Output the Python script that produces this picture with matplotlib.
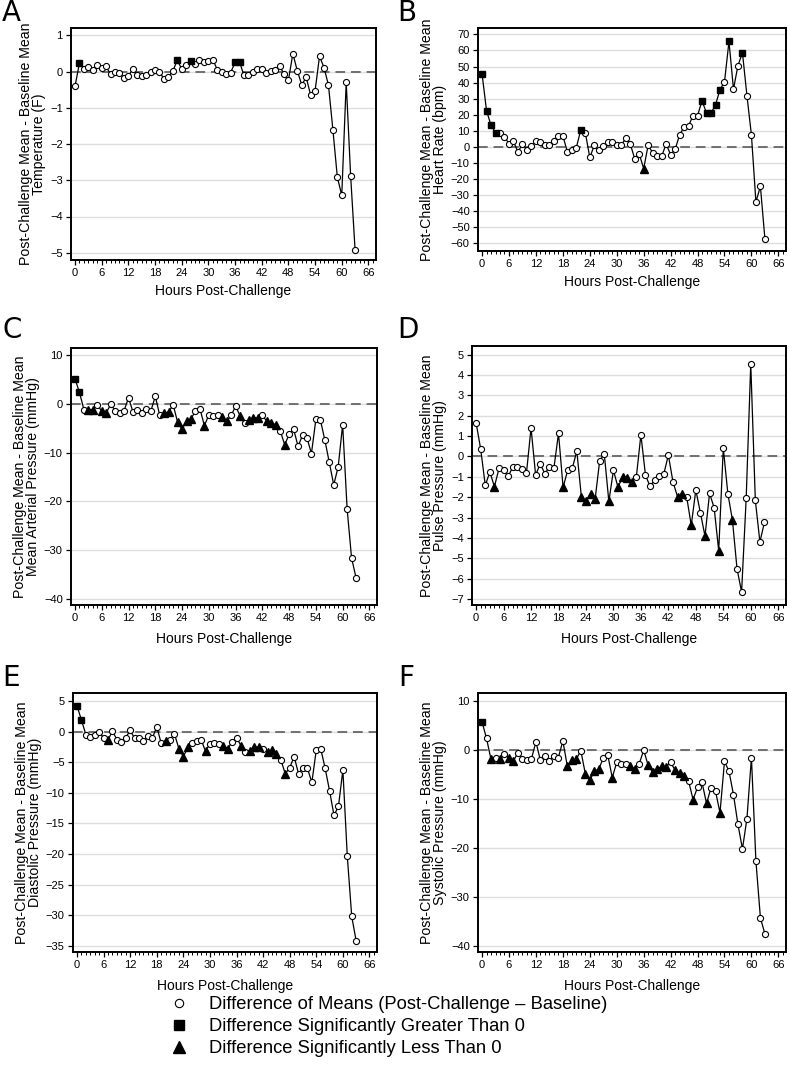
import numpy as np
import matplotlib
matplotlib.use("Agg")
from matplotlib import pyplot as plt
from matplotlib.lines import Line2D
from matplotlib.ticker import MultipleLocator

plt.rcParams['font.family'] = ['Liberation Sans', 'DejaVu Sans']

hours = np.arange(64)

# panel A - temperature (F)
temp = [-0.41, 0.23, 0.08, 0.13, 0.05, 0.18, 0.11, 0.14, -0.08, 0.0,
        -0.04, -0.18, -0.12, 0.06, -0.09, -0.12, -0.11, 0.0, 0.04, 0.0,
        -0.21, -0.15, 0.01, 0.31, 0.07, 0.18, 0.28, 0.22, 0.33, 0.26,
        0.29, 0.33, 0.05, -0.01, -0.07, -0.03, 0.25, 0.27, -0.11, -0.11,
        -0.02, 0.07, 0.06, -0.05, 0.02, 0.05, 0.15, -0.06, -0.24, 0.49,
        0.02, -0.37, -0.16, -0.65, -0.53, 0.42, 0.11, -0.37, -1.6, -2.91,
        -3.42, -0.3, -2.89, -4.93]
temp_hi = [1, 23, 26, 36, 37]
temp_lo = []

# panel B - heart rate (bpm)
hr = [45.5, 22.5, 13.3, 8.8, 8.8, 6.3, 1.8, 3.3, -3.3, 1.6,
      -1.9, 0.2, 3.3, 2.9, 1.0, 1.0, 3.5, 6.4, 6.8, -3.1,
      -2.3, -0.6, 10.6, 8.8, -6.7, 0.8, -2.1, 0.4, 3.0, 3.0,
      0.9, 0.9, 5.2, 1.9, -7.5, -4.4, -13.6, 0.9, -3.7, -5.8,
      -6.0, 1.7, -4.9, -1.6, 7.3, 12.3, 13.1, 19.4, 19.4, 28.6,
      21.0, 21.0, 26.1, 35.6, 40.4, 65.6, 35.9, 50.6, 58.6, 31.8,
      7.3, -34.4, -24.7, -57.4]
hr_hi = [0, 1, 2, 3, 22, 49, 50, 51, 52, 53, 55, 58]
hr_lo = [36]

# panel C - mean arterial pressure (mmHg)
map_ = [5.1, 2.3, -1.2, -1.2, -1.2, -0.3, -1.5, -1.9, -0.1, -1.4,
        -1.9, -1.4, 1.2, -1.7, -1.2, -1.9, -1.0, -1.5, 1.5, -2.4,
        -1.9, -1.7, -0.2, -3.8, -5.2, -3.6, -3.1, -1.5, -1.0, -4.5,
        -2.3, -2.5, -2.4, -2.8, -3.6, -2.4, -0.5, -2.5, -4.0, -3.4,
        -2.9, -2.9, -2.4, -3.6, -3.9, -4.3, -5.5, -8.4, -6.3, -5.2,
        -8.7, -6.5, -7.0, -10.2, -3.2, -3.3, -7.4, -12.0, -16.6, -12.9,
        -4.3, -21.5, -31.6, -35.6]
map_hi = [0, 1]
map_lo = [3, 4, 6, 7, 20, 21, 23, 24, 25, 26, 29, 33, 34, 37, 39, 40, 41,
          43, 44, 45, 47]

# panel D - pulse pressure (mmHg)
pp = [1.65, 0.36, -1.42, -0.76, -1.48, -0.59, -0.66, -0.97, -0.53, -0.54,
      -0.64, -0.81, 1.40, -0.92, -0.35, -0.84, -0.53, -0.56, 1.14, -1.52,
      -0.68, -0.58, 0.26, -1.99, -2.19, -1.85, -2.09, -0.2, 0.12, -2.21,
      -0.68, -1.52, -1.0, -1.04, -1.24, -1.02, 1.07, -0.92, -1.47, -1.15,
      -0.97, -0.86, 0.07, -1.24, -1.98, -1.83, -1.99, -3.38, -1.65, -2.77,
      -3.91, -1.81, -2.52, -4.63, 0.41, -1.83, -3.13, -5.52, -6.66, -2.06,
      4.55, -2.16, -4.2, -3.23]
pp_hi = []
pp_lo = [4, 19, 23, 24, 25, 26, 29, 31, 32, 33, 34, 44, 45, 47, 50, 53, 56]

# panel E - diastolic pressure (mmHg)
dia = [4.2, 1.9, -0.5, -0.9, -0.5, -0.1, -1.0, -1.4, 0.1, -1.3,
       -1.7, -1.0, 0.2, -1.1, -1.0, -1.5, -0.7, -1.1, 0.8, -1.9,
       -1.5, -1.3, -0.4, -2.8, -4.1, -2.6, -1.9, -1.5, -1.3, -3.2,
       -2.0, -1.9, -2.1, -2.3, -2.8, -1.7, -1.0, -2.3, -3.4, -3.1,
       -2.5, -2.6, -2.8, -3.4, -3.0, -3.6, -4.6, -6.9, -5.9, -4.1,
       -6.9, -5.9, -6.0, -8.3, -3.0, -2.8, -6.0, -9.7, -13.7, -12.2,
       -6.3, -20.4, -30.2, -34.2]
dia_hi = [0, 1]
dia_lo = [7, 20, 23, 24, 25, 29, 33, 34, 37, 39, 40, 41, 43, 44, 45, 47]

# panel F - systolic pressure (mmHg)
sys_ = [5.8, 2.4, -1.9, -1.6, -1.9, -0.7, -1.7, -2.2, -0.5, -1.8,
        -2.0, -1.8, 1.7, -2.1, -1.1, -2.2, -1.1, -1.5, 1.9, -3.3,
        -2.1, -1.8, -0.1, -4.8, -6.2, -4.3, -3.9, -1.6, -1.0, -5.6,
        -2.5, -2.9, -2.8, -3.2, -3.9, -2.8, 0.0, -3.1, -4.5, -3.9,
        -3.3, -3.4, -2.5, -4.1, -4.7, -5.2, -6.3, -10.1, -7.6, -6.6,
        -10.9, -7.7, -8.4, -12.8, -2.3, -4.3, -9.1, -15.2, -20.2, -14.0,
        -1.5, -22.7, -34.3, -37.6]
sys_hi = [0]
sys_lo = [2, 4, 6, 7, 19, 20, 21, 23, 24, 25, 26, 29, 33, 34, 37, 38, 39,
          40, 41, 43, 44, 45, 47, 50, 53]

W, H = 790, 1069
fig = plt.figure(figsize=(W / 100, H / 100), dpi=100)

# (letter, values, hi, lo, ylabel 2nd line, yticks, ylim, box px: l, r, top, bottom, letter px: x, y)
panels = [
    ("A", temp, temp_hi, temp_lo, "Temperature (F)", np.arange(-5, 2, 1), (-5.2, 1.2), (71, 376, 28, 260), (2, -1)),
    ("B", hr, hr_hi, hr_lo, "Heart Rate (bpm)", np.arange(-60, 80, 10), (-65, 74), (478, 786, 28, 251), (397, -1)),
    ("C", map_, map_hi, map_lo, "Mean Arterial Pressure (mmHg)", np.arange(-40, 20, 10), (-41.2, 11.4), (71, 377, 348, 605), (2, 316)),
    ("D", pp, pp_hi, pp_lo, "Pulse Pressure (mmHg)", np.arange(-7, 6, 1), (-7.3, 5.43), (472, 786, 346, 605), (397, 316)),
    ("E", dia, dia_hi, dia_lo, "Diastolic Pressure (mmHg)", np.arange(-35, 10, 5), (-36, 6.3), (73, 377, 693, 952), (2, 664)),
    ("F", sys_, sys_hi, sys_lo, "Systolic Pressure (mmHg)", np.arange(-40, 20, 10), (-41.3, 11.7), (478, 786, 693, 952), (398, 664)),
]

for letter, vals, hi, lo, lab, yt, yl, (l, r, t, b), (lx, ly) in panels:
    ax = fig.add_axes([l / W, 1 - b / H, (r - l) / W, (b - t) / H])
    vals = np.array(vals)
    assert len(vals) == len(hours)
    kind = np.zeros(len(hours), dtype=int)
    kind[hi] = 1
    kind[lo] = 2
    for y in yt:
        ax.axhline(y, color='#dedede', lw=1.0, zorder=0)
    ax.axhline(0, color='#707070', lw=1.4, ls=(0, (5, 3)), zorder=1)
    ax.plot(hours, vals, color='black', lw=0.9, zorder=2)
    m = kind == 0
    ax.plot(hours[m], vals[m], 'o', ls='none', ms=4.4, mfc='white', mec='black', mew=0.8, zorder=3)
    m = kind == 1
    ax.plot(hours[m], vals[m], 's', ls='none', ms=5, color='black', zorder=3)
    m = kind == 2
    ax.plot(hours[m], vals[m], '^', ls='none', ms=5.2, color='black', zorder=3)

    ax.set_xlim(-0.9, 67.7)
    ax.set_ylim(*yl)
    ax.set_xticks(np.arange(0, 67, 6))
    ax.xaxis.set_minor_locator(MultipleLocator(1))
    ax.set_yticks(yt)
    ax.tick_params(axis='both', which='major', labelsize=8, length=3.5, width=0.9, pad=2.5)
    ax.tick_params(axis='x', which='minor', length=2.2, width=0.7)
    for s in ax.spines.values():
        s.set_linewidth(1.4)
    ax.set_xlabel("Hours Post-Challenge", fontsize=10, labelpad=6 if letter in "CDEF" else 4)
    ax.set_ylabel("Post-Challenge Mean - Baseline Mean\n" + lab, fontsize=10.2,
                  linespacing=0.9, labelpad=3)
    fig.text(lx / W, 1 - ly / H, letter, fontsize=20, family='DejaVu Sans',
             va='top', ha='left')

handles = [
    Line2D([], [], ls='none', marker='o', ms=6, mfc='white', mec='black', mew=0.8),
    Line2D([], [], ls='none', marker='s', ms=7, color='black'),
    Line2D([], [], ls='none', marker='^', ms=9, color='black'),
]
labels = ["Difference of Means (Post-Challenge \u2013 Baseline)",
          "Difference Significantly Greater Than 0",
          "Difference Significantly Less Than 0"]
fig.legend(handles, labels, loc='upper left', bbox_to_anchor=(161 / W, 1 - 996 / H),
           frameon=False, fontsize=13.2, labelspacing=0.28, handletextpad=0.6,
           borderaxespad=0, borderpad=0)

fig.savefig("out.png", dpi=100)
